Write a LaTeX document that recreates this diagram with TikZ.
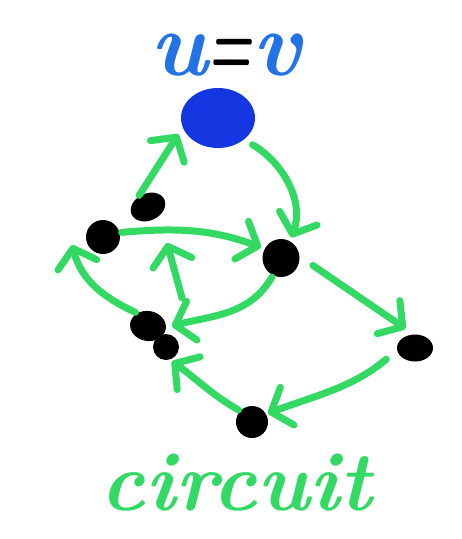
\documentclass[tikz,border=0pt]{standalone}
\usepackage{graphicx}
\usetikzlibrary{arrows.meta,shapes.geometric}
\definecolor{mgreen}{RGB}{50,218,100}
\definecolor{dotblue}{RGB}{20,55,225}
\definecolor{txtblue}{RGB}{35,115,230}
\begin{document}
\begin{tikzpicture}[x=1pt,y=1pt,
  dot/.style={ellipse,fill=black,inner sep=0pt},
  arr/.style={draw=mgreen,line width=7pt,line cap=round,-{Straight Barb[length=17pt,width=40pt,round]}},
  hand/.style={anchor=base,font=\fontsize{84}{84}\selectfont\bfseries\itshape}
]
\useasboundingbox (0,0) rectangle (462,-539);
\fill[white] (0,0) rectangle (462,-539);
% label
\node[hand,font=\fontsize{92}{92}\selectfont\bfseries\itshape] (T) at (226,-75) {\textcolor{txtblue}{u}\scalebox{0.55}[1]{\textcolor{black}{=}}\textcolor{txtblue}{v}};
% vertices
\node[ellipse,fill=dotblue,minimum width=74pt,minimum height=60pt,inner sep=0pt] (U) at (218,-118) {};
\node[dot,minimum width=36pt,minimum height=27pt,rotate=25] (A) at (148,-207) {};
\node[dot,minimum width=34pt,minimum height=34pt] (B) at (103,-237) {};
\node[dot,minimum width=37pt,minimum height=38pt] (C) at (281,-258) {};
\node[dot,minimum width=36pt,minimum height=30pt,rotate=-10] (D1) at (148,-326) {};
\node[dot,minimum width=26pt,minimum height=26pt] (D2) at (166,-347) {};
\node[dot,minimum width=36pt,minimum height=27pt] (E) at (415,-348) {};
\node[dot,minimum width=32pt,minimum height=32pt] (F) at (252,-422) {};
\coordinate (p1) at (182,-298);
\coordinate (p2) at (167,-243);
% edges
\draw[arr,shorten <=2pt,shorten >=8pt] (A.110) -- (U.195);
\draw[arr,shorten <=10pt,shorten >=4pt] (U.-40) to[out=-30,in=70] (C.62);
\draw[arr,shorten <=2pt,shorten >=4pt] (B.15) to[out=5,in=160] (C.150);
\draw[arr] (p1) -- (p2);
\draw[arr,shorten <=2pt,shorten >=6pt] (C.-115) to[out=-120,in=15] (D1.5);
\draw[arr,shorten <=2pt] (D1.140) to[out=155,in=-75] ([shift={(-31pt,-8pt)}]B.center);
\draw[arr,shorten <=16pt,shorten >=10pt] (C.5) -- (E.95);
\draw[arr,shorten <=14pt,shorten >=2pt] (E.187) to[out=-140,in=20] (F.30);
\draw[arr,shorten <=2pt,shorten >=3pt] (F.137) to[out=150,in=-35] (D2.-75);
% caption
\node[hand,text=mgreen] (W) at (236,-510) {circuit};
\end{tikzpicture}
\end{document}
